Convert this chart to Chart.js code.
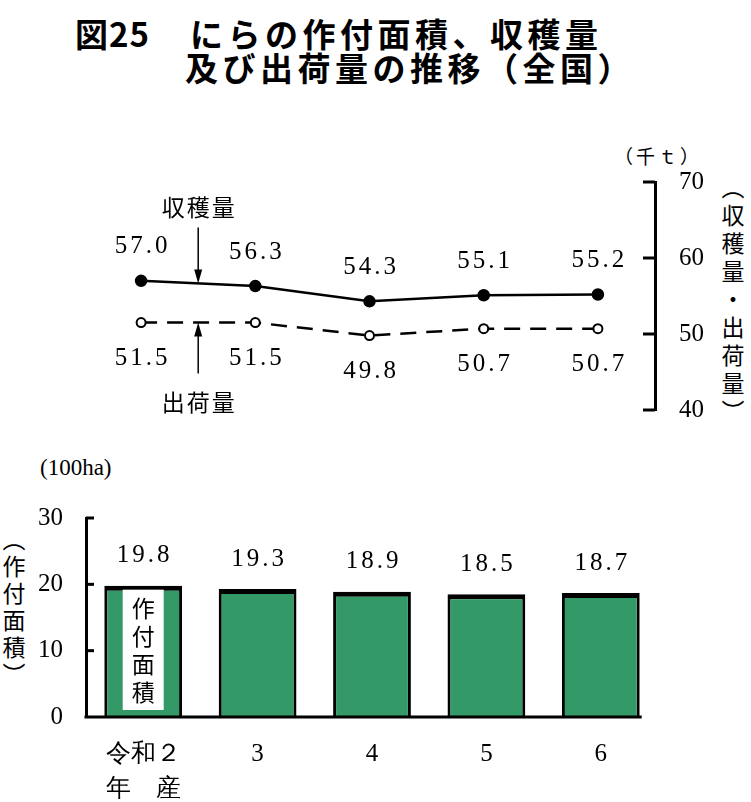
<!DOCTYPE html>
<html>
<head>
<meta charset="utf-8">
<script src="https://cdn.jsdelivr.net/npm/chart.js@4/dist/chart.umd.min.js"></script>
<style>
  body { margin: 0; background: #fff; }
  #wrap { position: relative; width: 751px; height: 802px; overflow: hidden; }
  .title { position: absolute; font-family: "Noto Sans CJK JP", sans-serif; font-weight: bold; font-size: 33px; letter-spacing: 4.5px; line-height: 1; white-space: pre; color: #000; }
  .vlabel { position: absolute; writing-mode: vertical-rl; font-family: "Noto Sans CJK JP", sans-serif; font-size: 23px; letter-spacing: 5px; line-height: 1; color: #000; }
  .unit { position: absolute; color: #000; white-space: pre; line-height: 1; }
  canvas { position: absolute; left: 0; }
</style>
</head>
<body>
<div id="wrap">
  <div class="title" style="left:75px;top:17px;letter-spacing:1px;">図25</div>
  <div class="title" style="left:190px;top:17px;">にらの作付面積、収穫量</div>
  <div class="title" style="left:185px;top:51px;">及び出荷量の推移（全国）</div>
  <div class="unit" style="left:614px;top:146px;font-size:19px;letter-spacing:3px;font-family:'Noto Sans CJK JP',sans-serif;">（千ｔ）</div>
  <div class="vlabel" style="left:721px;top:176px;">（収穫量・出荷量）</div>
  <div class="unit" style="left:40px;top:456px;font-size:23px;font-family:'Liberation Serif',serif;">(100ha)</div>
  <div class="vlabel" style="left:2px;top:528px;letter-spacing:4px;">（作付面積）</div>
  <canvas id="lineChart" width="751" height="300" style="top:130px"></canvas>
  <canvas id="barChart" width="751" height="362" style="top:440px"></canvas>
</div>
<script>
// data
const years = [['令和２', '年　産'], '3', '4', '5', '6'];
const harvest = [57.0, 56.3, 54.3, 55.1, 55.2];   // 収穫量 (千t)
const shipment = [51.5, 51.5, 49.8, 50.7, 50.7];  // 出荷量 (千t)
const area = [19.8, 19.3, 18.9, 18.5, 18.7];      // 作付面積 (100ha)
const lineTicks = [40, 50, 60, 70];
const barTicks = [0, 10, 20, 30];

const numFont = "'Liberation Serif', 'DejaVu Serif', serif";
const jpFont = "'Noto Sans CJK JP', sans-serif";

function spacedText(ctx, text, x, y, sp) {
    ctx.save();
    ctx.letterSpacing = sp + 'px';
    ctx.textAlign = 'center';
    ctx.textBaseline = 'middle';
    ctx.fillText(text, x + sp / 2, y);
    ctx.restore();
}

function arrow(ctx, x, y1, y2) {
    // from y1 to tip y2
    const dir = y2 > y1 ? 1 : -1;
    ctx.save();
    ctx.strokeStyle = '#000';
    ctx.fillStyle = '#000';
    ctx.lineWidth = 1.5;
    ctx.beginPath();
    ctx.moveTo(x, y1);
    ctx.lineTo(x, y2 - dir * 10);
    ctx.stroke();
    ctx.beginPath();
    ctx.moveTo(x, y2);
    ctx.lineTo(x - 4, y2 - dir * 14);
    ctx.lineTo(x + 4, y2 - dir * 14);
    ctx.closePath();
    ctx.fill();
    ctx.restore();
}

// tick label overhang would push the plot area in, drop it
function noOverhang(s) {
    s.paddingTop = 0;
    s.paddingBottom = 0;
}

//  Chart line (収穫量・出荷量)
const lineDecor = {
    id: 'lineDecor',
    afterDraw(chart) {
        const ctx = chart.ctx;
        const area = chart.chartArea;
        const y = chart.scales.y;
        const x = chart.scales.x;
        // inward ticks
        ctx.save();
        ctx.strokeStyle = '#000';
        ctx.lineWidth = 3;
        lineTicks.forEach(v => {
            const py = y.getPixelForValue(v);
            ctx.beginPath();
            ctx.moveTo(area.right - 12, py);
            ctx.lineTo(area.right, py);
            ctx.stroke();
        });
        ctx.restore();
        // value labels
        ctx.fillStyle = '#000';
        ctx.font = '25px ' + numFont;
        const hPts = chart.getDatasetMeta(0).data;
        const sPts = chart.getDatasetMeta(1).data;
        hPts.forEach((p, i) => spacedText(ctx, harvest[i].toFixed(1), p.x, p.y - 34, 3));
        sPts.forEach((p, i) => spacedText(ctx, shipment[i].toFixed(1), p.x, p.y + 36, 3));
        // arrows + names
        const ax = x.getPixelForValue(0.5);
        const hy = (hPts[0].y + hPts[1].y) / 2;
        const sy = (sPts[0].y + sPts[1].y) / 2;
        arrow(ctx, ax, hy - 56, hy);
        arrow(ctx, ax, sy + 51, sy);
        ctx.font = '23px ' + jpFont;
        spacedText(ctx, '収穫量', ax, hy - 76, 2);
        spacedText(ctx, '出荷量', ax, sy + 80, 2);
    }
};

const lineChart = new Chart(document.getElementById('lineChart'), {
    type: 'line',
    data: {
        labels: years,
        datasets: [{
            label: '収穫量',
            data: harvest,
            borderColor: '#000',
            borderWidth: 2.5,
            pointRadius: 5,
            pointBackgroundColor: '#000',
            pointBorderColor: '#000',
            tension: 0
        }, {
            label: '出荷量',
            data: shipment,
            borderColor: '#000',
            borderWidth: 2.5,
            borderDash: [16, 10],
            pointRadius: 4.5,
            pointBorderWidth: 2,
            pointBackgroundColor: '#fff',
            pointBorderColor: '#000',
            tension: 0
        }]
    },
    options: {
        responsive: false,
        animation: false,
        layout: { padding: { left: 84, right: 36, top: 52, bottom: 20 } },
        plugins: { legend: { display: false }, tooltip: { enabled: false } },
        scales: {
            x: { display: false, offset: true },
            y: {
                position: 'right',
                min: 40,
                max: 70,
                afterBuildTicks: s => { s.ticks = lineTicks.map(v => ({ value: v })); },
                afterFit: s => { s.width = 60; noOverhang(s); },
                ticks: { color: '#000', font: { family: numFont, size: 25 }, padding: 24 },
                grid: { display: false, drawTicks: false },
                border: { display: true, width: 3, color: '#000' }
            }
        }
    },
    plugins: [lineDecor]
});

//ChartBar (作付面積)
const barDecor = {
    id: 'barDecor',
    afterDraw(chart) {
        const ctx = chart.ctx;
        const area = chart.chartArea;
        const y = chart.scales.y;
        const bars = chart.getDatasetMeta(0).data;
        const last = bars[bars.length - 1];
        ctx.save();
        ctx.strokeStyle = '#000';
        ctx.lineWidth = 3;
        // x axis line, ends at the last bar
        ctx.beginPath();
        ctx.moveTo(area.left - 1.5, area.bottom);
        ctx.lineTo(last.x + last.width / 2 + 2, area.bottom);
        ctx.stroke();
        barTicks.forEach(v => {
            if (v === 0) return;
            const py = y.getPixelForValue(v);
            ctx.beginPath();
            ctx.moveTo(area.left, py);
            ctx.lineTo(area.left + 8, py);
            ctx.stroke();
        });
        ctx.restore();
        ctx.fillStyle = '#000';
        ctx.font = '25px ' + numFont;
        bars.forEach((b, i) => spacedText(ctx, area_fmt(i), b.x, b.y - 30, 3));
        // white box with series name in first bar
        const b = bars[0];
        const bw = 41;
        ctx.save();
        ctx.fillStyle = '#fff';
        ctx.fillRect(b.x - bw / 2, b.y + 4, bw, b.base - b.y - 11);
        ctx.fillStyle = '#000';
        ctx.font = '23px ' + jpFont;
        ['作', '付', '面', '積'].forEach((c, k) => spacedText(ctx, c, b.x, b.y + 23 + k * 28, 0));
        ctx.restore();
    }
};
function area_fmt(i) { return area[i].toFixed(1); }

const barChart = new Chart(document.getElementById('barChart'), {
    type: 'bar',
    data: {
        labels: years,
        datasets: [{
            label: '作付面積',
            data: area,
            backgroundColor: '#339966',
            borderColor: '#000',
            borderWidth: { top: 5, left: 3, right: 3, bottom: 0 },
            borderSkipped: false,
            barPercentage: 0.68,
            categoryPercentage: 1
        }]
    },
    options: {
        responsive: false,
        animation: false,
        layout: { padding: { left: 0, right: 93, top: 78, bottom: 0 } },
        plugins: { legend: { display: false }, tooltip: { enabled: false } },
        scales: {
            x: {
                afterFit: s => { s.height = 85; },
                ticks: { color: '#000', font: { family: numFont, size: 25, lineHeight: 1.4 }, padding: 20, maxRotation: 0 },
                grid: { display: false, drawTicks: false },
                border: { display: false }
            },
            y: {
                min: 0,
                max: 30,
                afterBuildTicks: s => { s.ticks = barTicks.map(v => ({ value: v })); },
                afterFit: s => { s.width = 86; noOverhang(s); },
                ticks: { color: '#000', font: { family: numFont, size: 25 }, padding: 23 },
                grid: { display: false, drawTicks: false },
                border: { display: true, width: 3, color: '#000' }
            }
        }
    },
    plugins: [barDecor]
});
</script>
</body>
</html>
